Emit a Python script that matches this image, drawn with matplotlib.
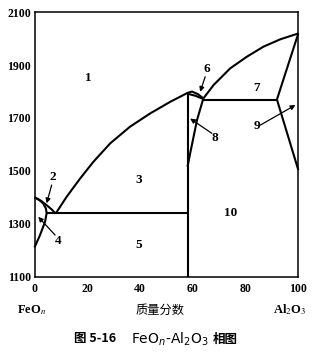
import matplotlib
matplotlib.use("Agg")
import matplotlib.pyplot as plt

# ---- data ----
xticks = [0, 20, 40, 60, 80, 100]
yticks = [1100, 1300, 1500, 1700, 1900, 2100]

liq_feo_x = [0, 2.7, 4.6, 6.5, 8.0]
liq_feo_y = [1400, 1385, 1370, 1354, 1338]

wus_x = [0, 1.8, 3.3, 4.3, 4.6, 4.0, 2.1, 0.9, 0]
wus_y = [1400, 1390, 1376, 1358, 1340, 1307, 1257, 1230, 1210]

liq_main_x = [8.0, 12.2, 17.3, 22.3, 28.7, 36.2, 43.8, 51.4, 55.5, 58.0, 59.7, 62.0, 64.0]
liq_main_y = [1338, 1402, 1471, 1534, 1604, 1667, 1717, 1761, 1782, 1795, 1800, 1790, 1774]

liq_al_x = [64.0, 67.9, 74.2, 80.5, 86.8, 93.2, 100]
liq_al_y = [1774, 1825, 1888, 1932, 1970, 1998, 2020]

lens_x = [58.0, 61.0, 64.0]
lens_y = [1792, 1784, 1772]

eut_x = [4.6, 58.0]
eut_y = [1340, 1340]

herc_x = [58.0, 58.0]
herc_y = [1100, 1795]

c8_x = [64.0, 61.6, 60.3, 59.0, 58.0]
c8_y = [1774, 1692, 1629, 1566, 1515]

per_x = [64.0, 91.9]
per_y = [1770, 1770]

alss_up_x = [91.9, 100]
alss_up_y = [1770, 2020]
alss_dn_x = [91.9, 100]
alss_dn_y = [1770, 1503]

region_text = ['1', '3', '5', '7', '10']
region_x = [20.4, 39.4, 39.4, 84.3, 74.2]
region_y = [1850, 1465, 1219, 1812, 1339]

arrow_text = ['2', '4', '6', '8', '9']
arrow_tx = [7.1, 9.0, 65.4, 68.5, 84.3]
arrow_ty = [1478, 1234, 1884, 1626, 1669]
arrow_tailx = [6.5, 7.8, 64.7, 67.2, 85.6]
arrow_taily = [1446, 1257, 1856, 1642, 1673]
arrow_headx = [4.6, 1.4, 62.8, 59.0, 98.9]
arrow_heady = [1377, 1326, 1799, 1698, 1749]

# ---- figure ----
fig = plt.figure(figsize=(3.12, 3.53), dpi=100)
ax = fig.add_axes([0.1106, 0.2167, 0.8455, 0.7484])
ax.set_xlim(0, 100)
ax.set_ylim(1100, 2100)

lw = 1.5
for xs, ys in [(liq_feo_x, liq_feo_y), (wus_x, wus_y), (liq_main_x, liq_main_y),
               (liq_al_x, liq_al_y), (lens_x, lens_y), (eut_x, eut_y),
               (herc_x, herc_y), (c8_x, c8_y), (per_x, per_y),
               (alss_up_x, alss_up_y), (alss_dn_x, alss_dn_y)]:
    ax.plot(xs, ys, color='black', lw=lw, solid_capstyle='butt', clip_on=False)

serif = 'Liberation Serif'
for t, x, y in zip(region_text, region_x, region_y):
    ax.text(x, y, t, ha='center', va='center', fontsize=9.5, family=serif, weight='bold')

for t, tx, ty, x0, y0, x1, y1 in zip(arrow_text, arrow_tx, arrow_ty, arrow_tailx,
                                      arrow_taily, arrow_headx, arrow_heady):
    ax.text(tx, ty, t, ha='center', va='center', fontsize=9.5, family=serif, weight='bold')
    ax.annotate('', xy=(x1, y1), xytext=(x0, y0),
                arrowprops=dict(arrowstyle='-|>', color='black', lw=0.9,
                                mutation_scale=7, shrinkA=0, shrinkB=0))

ax.set_xticks(xticks)
ax.set_yticks(yticks)
ax.set_xticklabels([str(v) for v in xticks], family=serif, weight='bold', fontsize=8.5)
ax.set_yticklabels([str(v) for v in yticks], family=serif, weight='bold', fontsize=8.5)
ax.tick_params(axis='both', length=0)
ax.tick_params(axis='x', pad=4.5)
ax.tick_params(axis='y', pad=2.5)
for s in ax.spines.values():
    s.set_linewidth(1.1)

fig.text(0.1016, 0.1218, r'FeO$_n$', ha='center', va='center', fontsize=9,
         family=serif, weight='bold', math_fontfamily='stix')
fig.text(0.5128, 0.1218, '质量分数', ha='center', va='center', fontsize=8.8,
         family=['Noto Sans CJK SC', 'DejaVu Sans'])
fig.text(0.929, 0.1218, r'Al$_2$O$_3$', ha='center', va='center', fontsize=9,
         family=serif, weight='bold', math_fontfamily='stix')

# caption built from pieces
cap_y = 0.0397
cap_font = ['Noto Sans CJK SC', 'DejaVu Sans']
p1 = fig.text(74 / 312, cap_y, '图 5-16', ha='left', va='center', fontsize=9,
              family=cap_font, weight='bold')
p2 = plt.annotate(r'FeO$_n$-Al$_2$O$_3$', xy=(1, 0.5), xycoords=p1,
                  xytext=(11, 0), textcoords='offset points', ha='left', va='center',
                  fontsize=10, math_fontfamily='dejavusans', family='DejaVu Sans')
p3 = plt.annotate('相图', xy=(1, 0.5), xycoords=p2, xytext=(3, 0),
                  textcoords='offset points', ha='left', va='center', fontsize=9,
                  family=cap_font, weight='bold')

fig.savefig('out.png', dpi=100)
